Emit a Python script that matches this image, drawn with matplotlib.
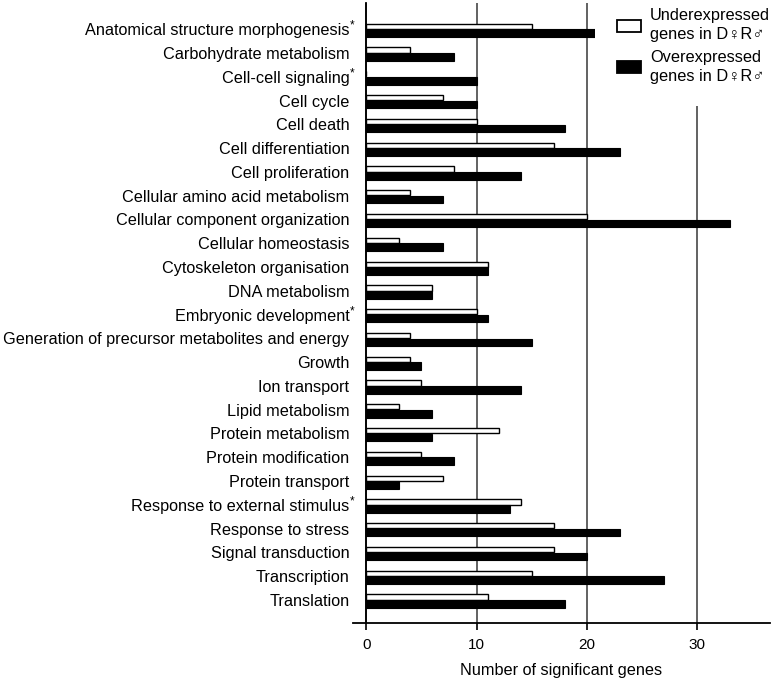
import matplotlib
matplotlib.use("Agg")
import matplotlib.pyplot as plt
import numpy as np

plt.rcParams['font.family'] = ['Liberation Sans', 'DejaVu Sans']

categories = [
    "Anatomical structure morphogenesis*",
    "Carbohydrate metabolism",
    "Cell-cell signaling*",
    "Cell cycle",
    "Cell death",
    "Cell differentiation",
    "Cell proliferation",
    "Cellular amino acid metabolism",
    "Cellular component organization",
    "Cellular homeostasis",
    "Cytoskeleton organisation",
    "DNA metabolism",
    "Embryonic development*",
    "Generation of precursor metabolites and energy",
    "Growth",
    "Ion transport",
    "Lipid metabolism",
    "Protein metabolism",
    "Protein modification",
    "Protein transport",
    "Response to external stimulus*",
    "Response to stress",
    "Signal transduction",
    "Transcription",
    "Translation",
]
under = [15, 4, 0, 7, 10, 17, 8, 4, 20, 3, 11, 6, 10, 4, 4, 5, 3, 12, 5, 7, 14, 17, 17, 15, 11]
over = [21, 8, 10, 10, 18, 23, 14, 7, 33, 7, 11, 6, 11, 15, 5, 14, 6, 6, 8, 3, 13, 23, 20, 27, 18]
xticks = [0, 10, 20, 30]
legend_labels = ["Underexpressed\ngenes in D\u2640R\u2642", "Overexpressed\ngenes in D\u2640R\u2642"]
xlabel = "Number of significant genes"

W, H = 773, 681
fig = plt.figure(figsize=(W / 100, H / 100), dpi=100)
ax = fig.add_axes([353 / W, 58 / H, 417 / W, 620 / H])

y = np.arange(len(categories))
ax.barh(y - 0.12, under, height=0.22, color='white', edgecolor='black', linewidth=1.0,
        label=legend_labels[0], zorder=3)
ax.barh(y + 0.17, over, height=0.32, color='black', edgecolor='black', linewidth=0.8,
        label=legend_labels[1], zorder=3)

ax.set_ylim(len(categories) - 0.03, -1.1)
ax.set_xlim(-1.2, 36.6)
ax.set_yticks(y)
pad_pt = 12.2
ax.set_yticklabels([c.rstrip('*') for c in categories])
ax.tick_params(axis='y', length=0, pad=pad_pt, labelsize=11.7)
for i, c in enumerate(categories):
    if c.endswith('*'):
        ax.annotate('*', xy=(0, i), xycoords='data', xytext=(-pad_pt + 0.3, 2.5),
                    textcoords='offset points', ha='left', va='center', fontsize=8.5)

ax.set_xticks(xticks)
ax.tick_params(axis='x', length=5, width=1.2, labelsize=11, pad=6)
ax.set_xlabel(xlabel, fontsize=11.7, labelpad=8)

for s in ['top', 'right']:
    ax.spines[s].set_visible(False)
ax.spines['left'].set_position(('data', 0))
ax.spines['left'].set_linewidth(1.3)
ax.spines['bottom'].set_linewidth(1.3)

ax.grid(axis='x', color='#555555', linewidth=1.3, zorder=1)
ax.set_axisbelow(True)

leg = ax.legend(loc='upper right', bbox_to_anchor=(792 / W, 1 + 14 / H),
                bbox_transform=fig.transFigure, fontsize=11.8, frameon=True,
                handlelength=1.45, handleheight=0.75, handletextpad=0.55, labelspacing=0.45,
                borderpad=1.35, borderaxespad=0.0)
leg.get_frame().set_facecolor('white')
leg.get_frame().set_edgecolor('none')
leg.get_frame().set_alpha(1)
leg.set_zorder(5)
for t in leg.get_texts():
    t.set_linespacing(1.35)
for p in leg.get_patches():
    p.set_linewidth(1.3)

fig.savefig("out.png", dpi=100)
